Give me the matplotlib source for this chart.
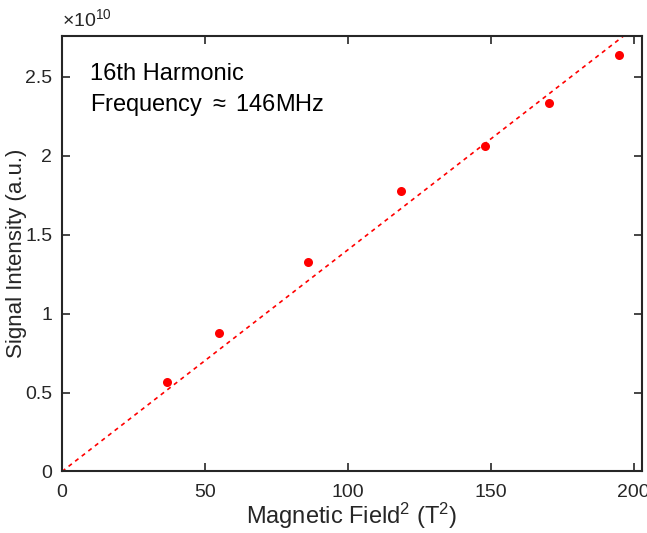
import numpy as np
import matplotlib
matplotlib.use("Agg")
import matplotlib.pyplot as plt
from matplotlib.ticker import FuncFormatter

# Datos
campo2 = [36.8, 55.0, 86.0, 118.5, 148.0, 170.4, 195.0]
intensidad = [0.568e10, 0.878e10, 1.326e10, 1.775e10, 2.06e10, 2.335e10, 2.64e10]
etiquetas_x = [0, 50, 100, 150, 200]
etiquetas_y = [0, 0.5e10, 1e10, 1.5e10, 2e10, 2.5e10]
escala = 1e10

plt.rcParams['font.family'] = ['Liberation Sans', 'DejaVu Sans']
plt.rcParams['mathtext.fontset'] = 'custom'
plt.rcParams['mathtext.rm'] = 'Liberation Sans'
plt.rcParams['mathtext.it'] = 'Liberation Sans:italic'

gris = '#262626'

# Ajuste lineal por el origen
x = np.array(campo2)
y = np.array(intensidad)
pendiente = np.sum(x * y) / np.sum(x * x)
xajuste = np.array([0, 210])

fig = plt.figure(figsize=(6.47, 5.33), dpi=100)
ax = fig.add_axes([0.0958, 0.1154, 0.896, 0.8178])

ax.plot(xajuste, pendiente * xajuste, linestyle=(0, (2.5, 2.5)), color='red', linewidth=1.2)
ax.plot(campo2, intensidad, 'o', color='red', markersize=6.5, markeredgewidth=0)

ax.set_xlim(0, 202.8)
ax.set_ylim(0, 2.76e10)
ax.set_xticks(etiquetas_x)
ax.set_yticks(etiquetas_y)
ax.yaxis.set_major_formatter(FuncFormatter(lambda v, p: '%g' % (v / escala)))

ax.tick_params(direction='in', top=True, right=True, labelsize=14, colors=gris,
               length=6, width=1.2)
ax.tick_params(axis='x', pad=9)
ax.tick_params(axis='y', pad=7)
for s in ax.spines.values():
    s.set_color(gris)
    s.set_linewidth(1.5)

# factor de escala arriba del eje
ax.text(0.0, 1.012, r'$\times 10^{10}$', transform=ax.transAxes, fontsize=14,
        color=gris, ha='left', va='bottom')

ax.set_xlabel('Magnetic Field$^2$ (T$^2$)', fontsize=17, color=gris, labelpad=0)
ax.set_ylabel('Signal Intensity (a.u.)', fontsize=16, color=gris, labelpad=-1)

ax.text(0.048, 0.912, '16th Harmonic', transform=ax.transAxes, fontsize=17,
        color='black', va='center')
ax.text(0.048, 0.84, 'Frequency $\\approx$ 146MHz', transform=ax.transAxes, fontsize=17,
        color='black', va='center')

plt.savefig('out.png', dpi=100)
